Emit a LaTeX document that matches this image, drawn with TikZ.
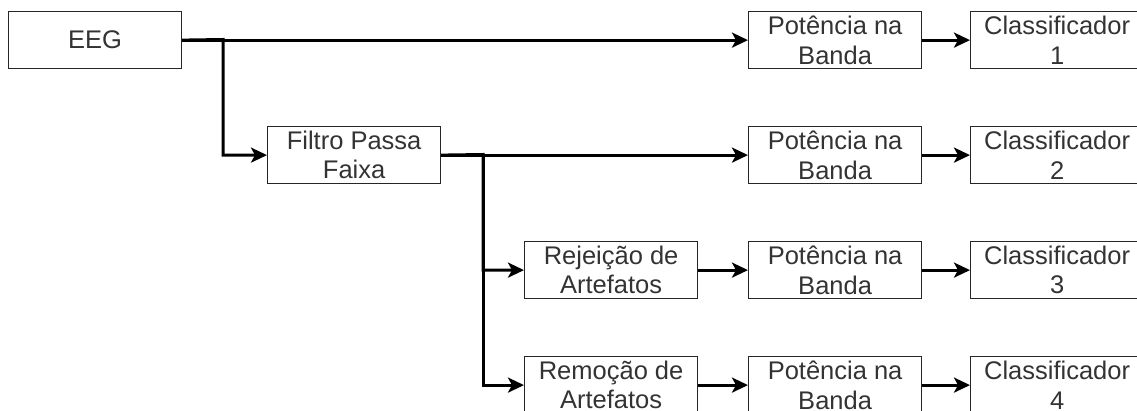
\documentclass[tikz,border=0pt]{standalone}
\usepackage{fontspec}
\setmainfont{Liberation Sans}
\usetikzlibrary{arrows.meta}
\begin{document}
\begin{tikzpicture}[x=1pt,y=-1pt,
  blk/.style={draw=black!85, line width=1.2pt, minimum width=173pt, minimum height=57pt, inner sep=0pt, align=center, text=black!80, font=\fontsize{25.5}{29.5}\selectfont, anchor=north west},
  conn/.style={line width=3pt, -{Stealth[length=16pt,width=15pt,inset=4pt]}}
]
\useasboundingbox (0,0) rectangle (1137,410);
\begin{scope}
\clip (0,0) rectangle (1137,410);
\node[blk] (eeg) at (8,11) {EEG};
\node[blk] (filt) at (267,126) {Filtro Passa\\Faixa};
\node[blk] (rej) at (524,241) {Rejeição de\\Artefatos};
\node[blk] (rem) at (524,356) {Remoção de\\Artefatos};
\node[blk] (p1) at (748,11) {Potência na\\Banda};
\node[blk] (p2) at (748,126) {Potência na\\Banda};
\node[blk] (p3) at (748,241) {Potência na\\Banda};
\node[blk] (p4) at (748,356) {Potência na\\Banda};
\node[blk] (c1) at (970,11) {Classificador\\1};
\node[blk] (c2) at (970,126) {Classificador\\2};
\node[blk] (c3) at (970,241) {Classificador\\3};
\node[blk] (c4) at (970,356) {Classificador\\4};
\coordinate (b1) at (223,39.5);
\coordinate (b2) at (483,154.5);
\draw[conn] (eeg.east) -- (p1.west);
\draw[conn] (eeg.east) -- (b1) |- (filt.west);
\draw[conn] (filt.east) -- (p2.west);
\draw[conn] (filt.east) -- (b2) |- (rej.west);
\draw[conn] (b2) |- (rem.west);
\draw[conn] (rej.east) -- (p3.west);
\draw[conn] (rem.east) -- (p4.west);
\draw[conn] (p1.east) -- (c1.west);
\draw[conn] (p2.east) -- (c2.west);
\draw[conn] (p3.east) -- (c3.west);
\draw[conn] (p4.east) -- (c4.west);
\end{scope}
\end{tikzpicture}
\end{document}
